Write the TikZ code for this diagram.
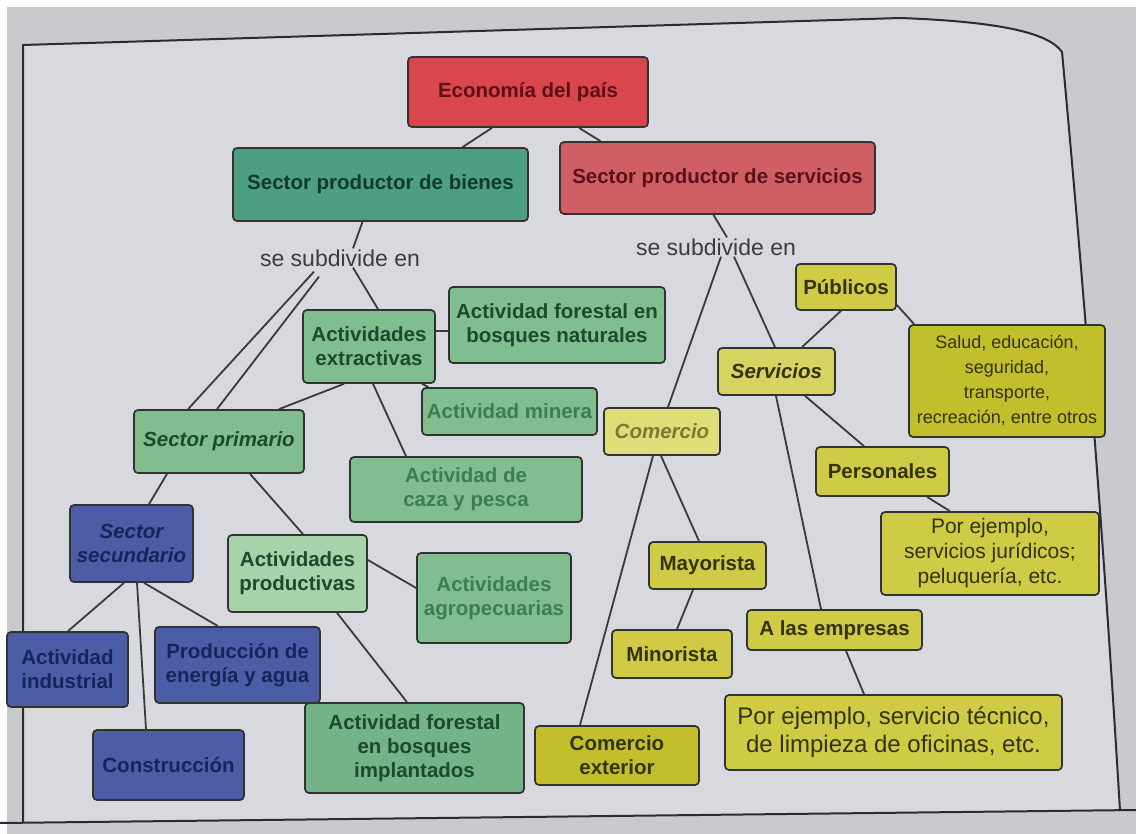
\documentclass[tikz,border=0pt]{standalone}
\usepackage{fontspec}
\setmainfont{Liberation Sans}

\definecolor{pageout}{HTML}{C9CACE}
\definecolor{pagein}{HTML}{D8D9DE}
\definecolor{frameline}{HTML}{2B2B30}
\definecolor{boxline}{HTML}{30332F}
\definecolor{linkgray}{HTML}{3A3A3C}
\definecolor{redfill}{HTML}{D9464D}
\definecolor{redtext}{HTML}{5A1216}
\definecolor{pinkfill}{HTML}{CF5F64}
\definecolor{tealfill}{HTML}{4C9F80}
\definecolor{tealtext}{HTML}{123A29}
\definecolor{greenfill}{HTML}{80BE8F}
\definecolor{greentext}{HTML}{1C4A2B}
\definecolor{fadedgreen}{HTML}{3D7D50}
\definecolor{lightgreen}{HTML}{A6D4A8}
\definecolor{darkgreen}{HTML}{72B487}
\definecolor{bluefill}{HTML}{4A5DA6}
\definecolor{bluetext}{HTML}{17245C}
\definecolor{yellowfill}{HTML}{CFCB45}
\definecolor{yellowtext}{HTML}{35330F}
\definecolor{olivefill}{HTML}{C3BE2C}
\definecolor{paleyellow}{HTML}{DEDD78}
\definecolor{fadedolive}{HTML}{7C7A30}
\definecolor{labeltext}{HTML}{3C3C40}

\begin{document}
\begin{tikzpicture}[x=1pt,y=-1pt,
  box/.style={draw=boxline,rounded corners=4pt,line width=1.7pt,align=center,
    inner sep=2pt,font=\bfseries\fontsize{20.5}{24}\selectfont},
  sz/.style 2 args={minimum width=#1pt,minimum height=#2pt},
  slanted/.style={font=\bfseries\itshape\fontsize{20.5}{24}\selectfont},
  red box/.style={box,fill=redfill,text=redtext},
  pink box/.style={box,fill=pinkfill,text=redtext},
  teal box/.style={box,fill=tealfill,text=tealtext},
  green box/.style={box,fill=greenfill,text=greentext},
  blue box/.style={box,fill=bluefill,text=bluetext},
  yellow box/.style={box,fill=yellowfill,text=yellowtext},
  subdiv/.style={font=\fontsize{23}{26}\selectfont,text=labeltext,inner sep=1pt},
  link/.style={draw=linkgray,line width=1.8pt}]

  \useasboundingbox (0,0) rectangle (1136,834);

  % page
  \fill[white] (0,0) rectangle (1136,834);
  \fill[pageout] (7,7) rectangle (1136,834);
  \fill[pagein] (23,823) -- (23,45) -- (900,18)
    .. controls (1010,22) and (1050,35) .. (1062,52)
    .. controls (1085,300) and (1105,560) .. (1120,811) -- cycle;
  \draw[frameline,line width=2pt] (23,823) -- (23,45) -- (900,18)
    .. controls (1010,22) and (1050,35) .. (1062,52)
    .. controls (1085,300) and (1105,560) .. (1120,811);
  \draw[frameline,line width=2pt] (0,823) -- (1136,810);

  % top
  \node[red box,sz={240}{70}] (econ) at (528,92) {Economía del país};
  \node[teal box,sz={295}{73}] (bienes) at (380.5,184.5) {Sector productor de bienes};
  \node[pink box,sz={315}{72}] (servicios) at (717.5,178) {Sector productor de servicios};
  \node[subdiv] (se1) at (340,258) {se subdivide en};
  \node[subdiv] (se2) at (716,247) {se subdivide en};

  % bienes
  \node[green box,sz={132}{73}] (extract) at (369,346.5) {Actividades\\extractivas};
  \node[green box,sz={216}{76}] (fnat) at (557,325) {Actividad forestal en\\bosques naturales};
  \node[green box,sz={175}{47},text=fadedgreen] (minera) at (509.5,411.5) {Actividad minera};
  \node[green box,slanted,sz={170}{63}] (primario) at (219,441.5) {Sector primario};
  \node[green box,sz={232}{65},text=fadedgreen] (caza) at (466,489.5) {Actividad de\\caza y pesca};
  \node[blue box,slanted,sz={123}{77}] (secund) at (131.5,543.5) {Sector\\secundario};
  \node[green box,fill=lightgreen,sz={139}{77}] (product) at (297.5,573.5) {Actividades\\productivas};
  \node[green box,sz={154}{90},text=fadedgreen] (agro) at (494,598) {Actividades\\agropecuarias};
  \node[blue box,sz={121}{75}] (indust) at (67.5,669.5) {Actividad\\industrial};
  \node[blue box,sz={165}{76}] (energia) at (237.5,665) {Producción de\\energía y agua};
  \node[blue box,sz={151}{70}] (construc) at (168.5,765) {Construcción};
  \node[green box,fill=darkgreen,sz={219}{90}] (fimpl) at (414.5,748) {Actividad forestal\\en bosques\\implantados};

  % servicios
  \node[yellow box,sz={100}{46}] (publicos) at (846,287) {Públicos};
  \node[yellow box,fill=olivefill,sz={196}{112},font=\fontsize{18}{25}\selectfont] (salud) at (1007,381)
    {Salud, educación,\\seguridad,\\transporte,\\recreación, entre otros};
  \node[yellow box,slanted,fill=yellowfill!85!white,sz={117}{47}] (servs) at (776.5,371.5) {Servicios};
  \node[yellow box,slanted,fill=paleyellow,text=fadedolive,sz={116}{47}] (comercio) at (662,431.5) {Comercio};
  \node[yellow box,sz={133}{49}] (personales) at (882.5,471.5) {Personales};
  \node[yellow box,sz={218}{83},font=\fontsize{21}{25}\selectfont] (porej1) at (990,553.5)
    {Por ejemplo,\\servicios jurídicos;\\peluquería, etc.};
  \node[yellow box,sz={117}{47}] (mayorista) at (707.5,565.5) {Mayorista};
  \node[yellow box,sz={120}{48}] (minorista) at (672,654) {Minorista};
  \node[yellow box,sz={175}{40}] (empresas) at (834.5,630) {A las empresas};
  \node[yellow box,sz={337}{75},font=\fontsize{24}{28}\selectfont] (porej2) at (893.5,732.5)
    {Por ejemplo, servicio técnico,\\de limpieza de oficinas, etc.};
  \node[yellow box,fill=olivefill,sz={164}{59}] (exterior) at (617,755.5) {Comercio\\exterior};

  \path[link]
    ([xshift=-36pt]econ.south) edge ([xshift=82pt]bienes.north)
    ([xshift=51pt]econ.south) edge ([xshift=-117pt]servicios.north)
    ([xshift=-18pt]bienes.south) edge ([xshift=13pt]se1.north)
    ([xshift=13pt]se1.south) edge ([xshift=9pt]extract.north)
    ([xshift=-26pt,yshift=-4pt]se1.south) edge ([xshift=-31pt]primario.north)
    ([xshift=-21pt,yshift=-9pt]se1.south) edge ([xshift=-2pt]primario.north)
    ([xshift=-25pt]extract.south) edge ([xshift=60pt]primario.north)
    ([yshift=15.5pt]extract.east) edge ([yshift=-6pt]fnat.west)
    ([xshift=53pt]extract.south) edge ([xshift=-81pt]minera.north)
    ([xshift=4pt]extract.south) edge ([xshift=-60pt]caza.north)
    ([xshift=-52pt]primario.south) edge ([xshift=17.5pt]secund.north)
    ([xshift=31pt]primario.south) edge ([xshift=5.5pt]product.north)
    ([xshift=-7.5pt]secund.south) edge ([xshift=0.5pt]indust.north)
    ([xshift=5.5pt]secund.south) edge ([xshift=-22.5pt]construc.north)
    ([xshift=12.5pt]secund.south) edge ([xshift=-19.5pt]energia.north)
    ([yshift=13.5pt]product.east) edge ([yshift=10pt]agro.west)
    ([xshift=39.5pt]product.south) edge ([xshift=-7.5pt]fimpl.north);

  \path[link]
    ([xshift=-4pt]servicios.south) edge ([xshift=11pt]se2.north)
    ([xshift=5pt]se2.south) edge ([xshift=6pt]comercio.north)
    ([xshift=18pt]se2.south) edge ([xshift=-1.5pt]servs.north)
    ([xshift=25.5pt]servs.north) edge ([xshift=-5pt]publicos.south)
    ([yshift=-18pt]publicos.east) edge ([xshift=6pt]salud.north west)
    ([xshift=28.5pt]servs.south) edge ([xshift=-18.5pt]personales.north)
    ([xshift=44.5pt]personales.south) edge ([xshift=-40pt]porej1.north)
    ([xshift=-0.5pt]servs.south) edge ([xshift=-13.5pt]empresas.north)
    ([xshift=11.5pt]empresas.south) edge ([xshift=-29.5pt]porej2.north)
    ([xshift=-1pt]comercio.south) edge ([xshift=-8.5pt]mayorista.north)
    ([xshift=-9pt]comercio.south) edge ([xshift=-37pt]exterior.north)
    ([xshift=-14.5pt]mayorista.south) edge ([xshift=5pt]minorista.north);

\end{tikzpicture}
\end{document}
